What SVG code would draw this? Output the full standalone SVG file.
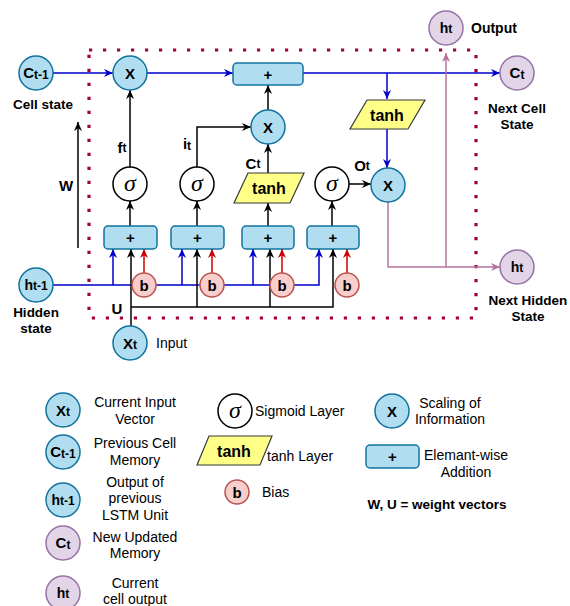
<svg xmlns="http://www.w3.org/2000/svg" width="570" height="606" viewBox="0 0 570 606">
<defs>
<style>
text{font-family:"Liberation Sans",Arial,sans-serif;fill:#000;dominant-baseline:central}
.b{font-weight:bold}
.lbl{font-size:13.5px;font-weight:bold;text-anchor:middle}
.leg{font-size:14px;text-anchor:middle}
.blue{fill:#b1ddf0;stroke:#10739e;stroke-width:1.5}
.purp{fill:#e1d5e7;stroke:#9673a6;stroke-width:1.5}
.bias{fill:#f8cecc;stroke:#b85450;stroke-width:1.5}
.tanh{fill:#ffff88;stroke:#36393d;stroke-width:1.2}
.sig{fill:#fff;stroke:#000;stroke-width:1.5}
.sigt{font-family:"Liberation Serif","Times New Roman",serif;font-style:italic;font-size:24px;text-anchor:middle}
.ct{font-size:15px;font-weight:bold;text-anchor:middle}
.tn{font-size:16px;font-weight:bold;text-anchor:middle}
.cb{fill:none;stroke:#0000cc;stroke-width:1.5}
.ck{fill:none;stroke:#000;stroke-width:1.5}
.cr{fill:none;stroke:#cc0000;stroke-width:1.5}
.cp{fill:none;stroke:#b5739d;stroke-width:1.5}
</style>
<marker id="mb" viewBox="0 0 10 10" refX="10" refY="5" markerWidth="9" markerHeight="9" markerUnits="userSpaceOnUse" orient="auto"><path d="M0,0.5 L10,5 L0,9.5 L3,5 z" fill="#0000cc"/></marker>
<marker id="mk" viewBox="0 0 10 10" refX="10" refY="5" markerWidth="9" markerHeight="9" markerUnits="userSpaceOnUse" orient="auto"><path d="M0,0.5 L10,5 L0,9.5 L3,5 z" fill="#000"/></marker>
<marker id="mr" viewBox="0 0 10 10" refX="10" refY="5" markerWidth="9" markerHeight="9" markerUnits="userSpaceOnUse" orient="auto"><path d="M0,0.5 L10,5 L0,9.5 L3,5 z" fill="#cc0000"/></marker>
<marker id="mp" viewBox="0 0 10 10" refX="10" refY="5" markerWidth="9" markerHeight="9" markerUnits="userSpaceOnUse" orient="auto"><path d="M0,0.5 L10,5 L0,9.5 L3,5 z" fill="#b5739d"/></marker>
</defs>
<rect width="570" height="606" fill="#fff"/>

<!-- dotted cell boundary -->
<rect id="cell-boundary" x="89" y="50" width="387" height="268" fill="none" stroke="#a2003c" stroke-width="3.2" stroke-dasharray="3.2 10.8"/>

<g id="connectors">
<line class="cb" x1="53" y1="73" x2="113" y2="73" marker-end="url(#mb)"/>
<line class="cb" x1="147" y1="73" x2="233" y2="73" marker-end="url(#mb)"/>
<line class="cb" x1="303" y1="73" x2="500" y2="73" marker-end="url(#mb)"/>
<line class="cb" x1="387" y1="73" x2="387" y2="99" marker-end="url(#mb)"/>
<line class="cb" x1="387" y1="129" x2="387" y2="168" marker-end="url(#mb)"/>
<line class="ck" x1="349" y1="184" x2="371" y2="184" marker-end="url(#mk)"/>
<path class="cp" d="M388,202 V267 H500" marker-end="url(#mp)"/>
<line class="cp" x1="446" y1="267" x2="446" y2="53" marker-end="url(#mp)"/>
<line class="ck" x1="268" y1="110" x2="268" y2="85" marker-end="url(#mk)"/>
<line class="ck" x1="268" y1="173" x2="268" y2="144" marker-end="url(#mk)"/>
<path class="ck" d="M197,167 V127 H251" marker-end="url(#mk)"/>
<line class="ck" x1="130" y1="167" x2="130" y2="90" marker-end="url(#mk)"/>
<line class="ck" x1="130" y1="226" x2="130" y2="201" marker-end="url(#mk)"/>
<line class="ck" x1="197" y1="226" x2="197" y2="201" marker-end="url(#mk)"/>
<line class="ck" x1="268" y1="226" x2="268" y2="203" marker-end="url(#mk)"/>
<line class="ck" x1="332" y1="226" x2="332" y2="201" marker-end="url(#mk)"/>
<line class="ck" x1="78" y1="248" x2="78" y2="122" marker-end="url(#mk)"/>
<path class="cb" d="M53,285 H319 V249" marker-end="url(#mb)"/>
<line class="cb" x1="113" y1="285" x2="113" y2="249" marker-end="url(#mb)"/>
<line class="cb" x1="182" y1="285" x2="182" y2="249" marker-end="url(#mb)"/>
<line class="cb" x1="253" y1="285" x2="253" y2="249" marker-end="url(#mb)"/>
<line class="cr" x1="144" y1="273" x2="144" y2="249" marker-end="url(#mr)"/>
<line class="cr" x1="212" y1="273" x2="212" y2="249" marker-end="url(#mr)"/>
<line class="cr" x1="282" y1="273" x2="282" y2="249" marker-end="url(#mr)"/>
<line class="cr" x1="347" y1="273" x2="347" y2="249" marker-end="url(#mr)"/>
<line class="ck" x1="131" y1="326" x2="131" y2="249" marker-end="url(#mk)"/>
<path class="ck" d="M131,307 H333 V249" marker-end="url(#mk)"/>
<line class="ck" x1="197" y1="307" x2="197" y2="249" marker-end="url(#mk)"/>
<line class="ck" x1="270" y1="307" x2="270" y2="249" marker-end="url(#mk)"/>
</g>

<!-- inputs / outputs -->
<g id="c-prev"><circle class="blue" cx="36" cy="73" r="17"/><text x="36" y="72" class="ct"><tspan>C</tspan><tspan font-size="12" dy="3">t-1</tspan></text></g>
<text x="43" y="104" class="lbl">Cell state</text>
<g id="h-prev"><circle class="blue" cx="36" cy="285" r="17"/><text x="36" y="285" class="ct" font-size="14"><tspan font-size="14">h</tspan><tspan font-size="12" dy="1">t-1</tspan></text></g>
<text x="36" y="312" class="lbl">Hidden</text>
<text x="36" y="328" class="lbl">state</text>
<g id="x-in"><circle class="blue" cx="130" cy="343" r="17"/><text x="130" y="343" class="ct"><tspan>X</tspan><tspan font-size="12" dy="2">t</tspan></text></g>
<text x="156" y="343" font-size="14">Input</text>
<g id="h-out"><circle class="purp" cx="446" cy="28" r="17"/><text x="446" y="28" class="ct"><tspan font-size="14">h</tspan><tspan font-size="12" dy="1">t</tspan></text></g>
<text x="471" y="28" font-size="14" class="b">Output</text>
<g id="c-next"><circle class="purp" cx="517" cy="73" r="17"/><text x="517" y="72" class="ct"><tspan>C</tspan><tspan font-size="12" dy="3">t</tspan></text></g>
<text x="517" y="108" class="lbl">Next Cell</text>
<text x="517" y="124" class="lbl">State</text>
<g id="h-next"><circle class="purp" cx="517" cy="267" r="17"/><text x="517" y="267" class="ct"><tspan font-size="14">h</tspan><tspan font-size="12" dy="1">t</tspan></text></g>
<text x="528" y="300" class="lbl">Next Hidden</text>
<text x="528" y="316" class="lbl">State</text>

<!-- cell internals -->
<g id="mul-forget"><circle class="blue" cx="130" cy="73" r="17"/><text x="130" y="73" class="ct">X</text></g>
<g id="add-cell"><rect class="blue" x="233" y="63" width="70" height="22" rx="4"/><text x="268" y="74" class="ct">+</text></g>
<g id="tanh-out"><polygon class="tanh" points="367,100 425,100 408,129 350,129"/><text x="387" y="115" class="tn">tanh</text></g>
<g id="mul-out"><circle class="blue" cx="388" cy="185" r="17"/><text x="388" y="185" class="ct">X</text></g>
<g id="mul-in"><circle class="blue" cx="268" cy="127" r="17"/><text x="268" y="127" class="ct">X</text></g>

<g id="sig-f"><circle class="sig" cx="130" cy="184" r="17"/><text x="130" y="183" class="sigt">σ</text></g>
<g id="sig-i"><circle class="sig" cx="197" cy="184" r="17"/><text x="197" y="183" class="sigt">σ</text></g>
<g id="tanh-c"><polygon class="tanh" points="248,173 304,173 290,203 234,203"/><text x="269" y="188" class="tn">tanh</text></g>
<g id="sig-o"><circle class="sig" cx="332" cy="184" r="17"/><text x="332" y="183" class="sigt">σ</text></g>

<g id="add-f"><rect class="blue" x="104" y="226" width="53" height="23" rx="4"/><text x="130.5" y="237.5" class="ct">+</text></g>
<g id="add-i"><rect class="blue" x="171" y="226" width="53" height="23" rx="4"/><text x="197.5" y="237.5" class="ct">+</text></g>
<g id="add-c"><rect class="blue" x="242" y="226" width="52" height="23" rx="4"/><text x="268" y="237.5" class="ct">+</text></g>
<g id="add-o"><rect class="blue" x="307" y="226" width="52" height="23" rx="4"/><text x="333" y="237.5" class="ct">+</text></g>

<g id="bias-f"><circle class="bias" cx="144" cy="285" r="12"/><text x="144" y="285" class="ct" font-size="14">b</text></g>
<g id="bias-i"><circle class="bias" cx="212" cy="285" r="12"/><text x="212" y="285" class="ct" font-size="14">b</text></g>
<g id="bias-c"><circle class="bias" cx="282" cy="285" r="12"/><text x="282" y="285" class="ct" font-size="14">b</text></g>
<g id="bias-o"><circle class="bias" cx="347" cy="285" r="12"/><text x="347" y="285" class="ct" font-size="14">b</text></g>

<!-- connector labels -->
<text x="122" y="147" class="ct"><tspan>f</tspan><tspan font-size="12" dy="1">t</tspan></text>
<text x="187" y="143" class="ct"><tspan>i</tspan><tspan font-size="12" dy="3">t</tspan></text>
<text x="253" y="163" class="ct"><tspan>C</tspan><tspan font-size="12" dy="1">t</tspan></text>
<text x="362" y="165" class="ct"><tspan>O</tspan><tspan font-size="12" dy="1">t</tspan></text>
<text x="66" y="185" class="ct">W</text>
<text x="117" y="308" class="ct">U</text>

<!-- legend -->
<g id="legend">
<g id="leg-x"><circle class="blue" cx="63" cy="410" r="17"/><text x="63" y="410" class="ct"><tspan>X</tspan><tspan font-size="12" dy="2">t</tspan></text></g>
<text x="135" y="402" class="leg">Current Input</text>
<text x="135" y="419" class="leg">Vector</text>
<g id="leg-cprev"><circle class="blue" cx="63" cy="452" r="17"/><text x="63" y="451" class="ct"><tspan>C</tspan><tspan font-size="12" dy="3">t-1</tspan></text></g>
<text x="135" y="443" class="leg">Previous Cell</text>
<text x="135" y="460" class="leg">Memory</text>
<g id="leg-hprev"><circle class="blue" cx="63" cy="500" r="17"/><text x="63" y="500" class="ct"><tspan font-size="14">h</tspan><tspan font-size="12" dy="1">t-1</tspan></text></g>
<text x="135" y="482" class="leg">Output of</text>
<text x="135" y="498" class="leg">previous</text>
<text x="135" y="515" class="leg">LSTM Unit</text>
<g id="leg-c"><circle class="purp" cx="63" cy="543" r="17"/><text x="63" y="542" class="ct"><tspan>C</tspan><tspan font-size="12" dy="3">t</tspan></text></g>
<text x="135" y="537" class="leg">New Updated</text>
<text x="135" y="553" class="leg">Memory</text>
<g id="leg-h"><circle class="purp" cx="63" cy="593" r="17"/><text x="63" y="593" class="ct"><tspan font-size="14">h</tspan><tspan font-size="12" dy="1">t</tspan></text></g>
<text x="135" y="583" class="leg">Current</text>
<text x="135" y="599" class="leg">cell output</text>

<g id="leg-sig"><circle class="sig" cx="235" cy="411" r="17"/><text x="235" y="410" class="sigt">σ</text></g>
<text x="255" y="411" font-size="14">Sigmoid Layer</text>
<g id="leg-tanh"><polygon class="tanh" points="209,436 272,436 260,465 197,465"/><text x="234" y="451" class="tn">tanh</text></g>
<text x="267" y="456" font-size="14">tanh Layer</text>
<g id="leg-bias"><circle class="bias" cx="237" cy="492" r="12"/><text x="237" y="492" class="ct" font-size="14">b</text></g>
<text x="262" y="492" font-size="14">Bias</text>

<g id="leg-mul"><circle class="blue" cx="392" cy="411" r="17"/><text x="392" y="411" class="ct">X</text></g>
<text x="450" y="403" class="leg">Scaling of</text>
<text x="450" y="419" class="leg">Information</text>
<g id="leg-add"><rect class="blue" x="366" y="445" width="53" height="23" rx="4"/><text x="392.5" y="456.5" class="ct">+</text></g>
<text x="466" y="455" class="leg">Elemant-wise</text>
<text x="466" y="472" class="leg">Addition</text>
<text x="437" y="504" class="lbl">W, U = weight vectors</text>
</g>
</svg>
